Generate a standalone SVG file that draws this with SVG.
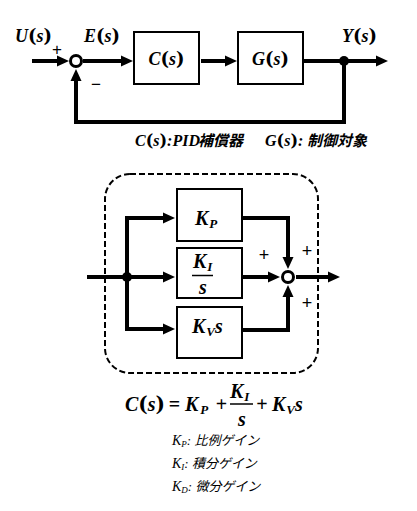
<svg xmlns="http://www.w3.org/2000/svg" width="417" height="511" viewBox="0 0 417 511">
<style>
.bg{fill:#fff}
.box{fill:#fff;stroke:#000;stroke-width:2}
.w{fill:none;stroke:#000;stroke-width:4}
.sum{fill:#fff;stroke:#000;stroke-width:3}
.dot{fill:#000}
.dash{fill:none;stroke:#000;stroke-width:2;stroke-dasharray:6 3}
.m{font-family:"Liberation Serif","DejaVu Serif",serif;font-weight:bold;font-style:italic;fill:#000}
.p{font-family:"DejaVu Serif",serif;font-style:normal;font-weight:bold}
.up{font-style:normal}
.sg{font-family:"Liberation Sans","DejaVu Sans",sans-serif;font-weight:normal;fill:#000}
.jp{font-family:"Liberation Serif","Noto Sans CJK JP",serif;font-style:italic;fill:#000}
.jb{font-family:"Noto Sans CJK JP",sans-serif;font-style:italic;font-weight:bold;fill:#000}
</style>
<defs>
<marker id="ah" markerUnits="userSpaceOnUse" markerWidth="13" markerHeight="12" refX="7" refY="6" orient="auto">
<path d="M0,0.5 L12,6 L0,11.5 z" fill="#000"/>
</marker>
</defs>
<rect class="bg" x="0" y="0" width="417" height="511"/>

<g id="connectors">
<line class="w" x1="32" y1="61" x2="64" y2="61" marker-end="url(#ah)"/>
<line class="w" x1="83" y1="61" x2="128" y2="61" marker-end="url(#ah)"/>
<line class="w" x1="201" y1="61" x2="232" y2="61" marker-end="url(#ah)"/>
<line class="w" x1="304" y1="61" x2="383" y2="61" marker-end="url(#ah)"/>
<path class="w" d="M344 61 V122 H76 V74" marker-end="url(#ah)"/>

<line class="w" x1="87" y1="277" x2="170" y2="277" marker-end="url(#ah)"/>
<path class="w" d="M127 277 V218 H170" marker-end="url(#ah)"/>
<path class="w" d="M127 277 V329 H170" marker-end="url(#ah)"/>
<path class="w" d="M243 218 H288 V264" marker-end="url(#ah)"/>
<line class="w" x1="243" y1="277" x2="275" y2="277" marker-end="url(#ah)"/>
<path class="w" d="M243 330 H288 V290" marker-end="url(#ah)"/>
<line class="w" x1="296" y1="277" x2="335" y2="277" marker-end="url(#ah)"/>
</g>

<g id="sum1">
<circle class="sum" cx="76" cy="61" r="5.5"/>
<text class="sg" x="57" y="55" font-size="17" text-anchor="middle">+</text>
<text class="sg" x="96" y="90" font-size="17" text-anchor="middle">−</text>
</g>
<g id="C">
<rect class="box" x="134" y="32" width="65" height="52"/>
<text class="m" x="166.5" y="65" font-size="18" text-anchor="middle">C<tspan class="p">(</tspan>s<tspan class="p">)</tspan></text>
</g>
<g id="G">
<rect class="box" x="238" y="32" width="65" height="52"/>
<text class="m" x="270.5" y="65" font-size="18" text-anchor="middle">G<tspan class="p">(</tspan>s<tspan class="p">)</tspan></text>
</g>
<g id="branchY">
<circle class="dot" cx="344" cy="61" r="5"/>
</g>
<g id="labels">
<text class="m" x="15" y="42" font-size="18">U<tspan class="p">(</tspan>s<tspan class="p">)</tspan></text>
<text class="m" x="84" y="42" font-size="18">E<tspan class="p">(</tspan>s<tspan class="p">)</tspan></text>
<text class="m" x="342" y="42" font-size="18">Y<tspan class="p">(</tspan>s<tspan class="p">)</tspan></text>
<text class="m" x="135" y="146" font-size="16">C<tspan class="p">(</tspan>s<tspan class="p">)</tspan>:PID</text>
<text class="jb" x="198" y="146" font-size="15">補償器</text>
<text class="m" x="265" y="146" font-size="16">G<tspan class="p">(</tspan>s<tspan class="p">)</tspan>:</text>
<text class="jb" x="307" y="146" font-size="15">制御対象</text>
</g>

<g id="pid">
<rect class="dash" x="105" y="174" width="213" height="199" rx="25"/>
</g>
<g id="branchU">
<circle class="dot" cx="127" cy="277" r="5"/>
</g>
<g id="KP">
<rect class="box" x="177" y="189" width="65" height="52"/>
<text class="m" x="195" y="225" font-size="20">K<tspan font-size="13" dy="3" dx="1">P</tspan></text>
</g>
<g id="KI">
<rect class="box" x="177" y="248" width="65" height="50"/>
<text class="m" x="193" y="268" font-size="20">K<tspan font-size="13" dy="3" dx="1">I</tspan></text>
<line x1="192" y1="275.5" x2="213" y2="275.5" stroke="#000" stroke-width="1.5"/>
<text class="m" x="203" y="294" font-size="20" text-anchor="middle">s</text>
</g>
<g id="KV">
<rect class="box" x="177" y="307" width="65" height="51"/>
<text class="m" x="192" y="333" font-size="20">K<tspan font-size="13" dy="3" dx="1">V</tspan><tspan dy="-3">s</tspan></text>
</g>
<g id="sum2">
<circle class="sum" cx="288" cy="277" r="5.5"/>
<text class="sg" x="264" y="261" font-size="18" text-anchor="middle">+</text>
<text class="sg" x="307" y="257" font-size="18" text-anchor="middle">+</text>
<text class="sg" x="307" y="309" font-size="18" text-anchor="middle">+</text>
</g>

<g id="formula">
<text class="m" x="125" y="411" font-size="20">C<tspan class="p">(</tspan>s<tspan class="p">)</tspan></text>
<text class="m" x="174.5" y="411" font-size="20" text-anchor="middle"><tspan class="up">=</tspan></text>
<text class="m" x="185" y="411" font-size="20">K<tspan font-size="13" dy="3" dx="2">P</tspan></text>
<text class="m" x="221.5" y="411" font-size="20" text-anchor="middle"><tspan class="up">+</tspan></text>
<text class="m" x="230" y="398" font-size="20">K<tspan font-size="13" dy="3" dx="1">I</tspan></text>
<line x1="230" y1="404" x2="253" y2="404" stroke="#000" stroke-width="1.5"/>
<text class="m" x="242" y="426" font-size="20" text-anchor="middle">s</text>
<text class="m" x="262" y="411" font-size="20" text-anchor="middle"><tspan class="up">+</tspan></text>
<text class="m" x="272" y="411" font-size="20">K<tspan font-size="13" dy="3" dx="1">V</tspan><tspan dy="-3">s</tspan></text>
</g>

<g id="legend">
<text class="jp" x="172" y="445" font-size="14">K<tspan font-size="9" dy="2">P</tspan><tspan dy="-2" font-size="13">: 比例ゲイン</tspan></text>
<text class="jp" x="172" y="468" font-size="14">K<tspan font-size="9" dy="2">I</tspan><tspan dy="-2" font-size="13">: 積分ゲイン</tspan></text>
<text class="jp" x="172" y="491" font-size="14">K<tspan font-size="9" dy="2">D</tspan><tspan dy="-2" font-size="13">: 微分ゲイン</tspan></text>
</g>
</svg>
